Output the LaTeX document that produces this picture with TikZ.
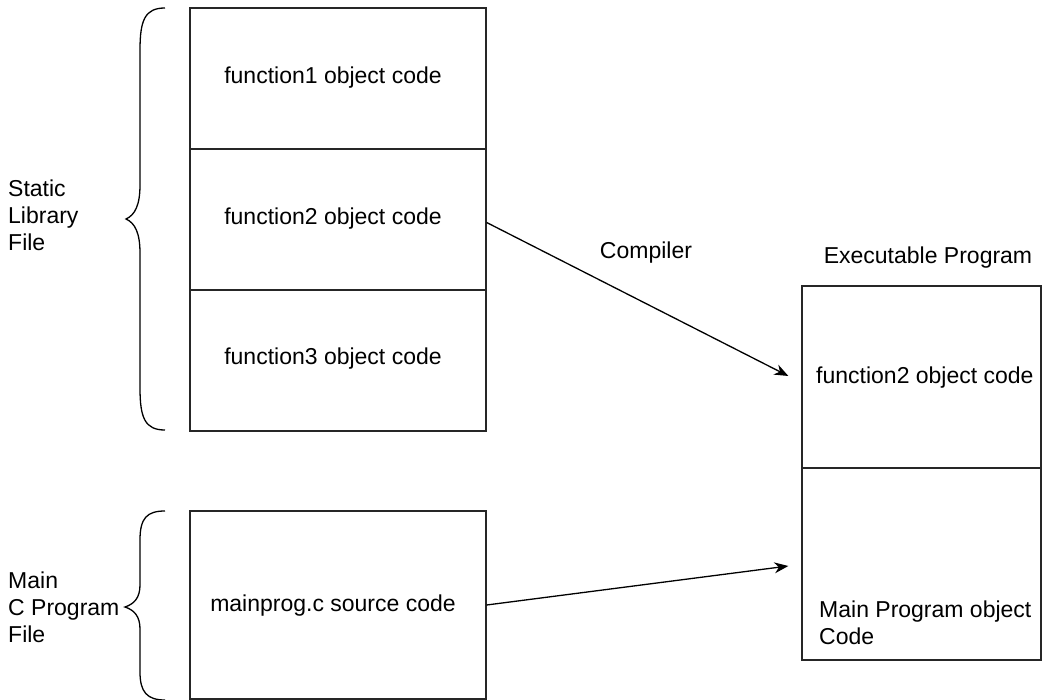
\documentclass[tikz,border=0pt]{standalone}
\usepackage{fontspec}
\setmainfont{Liberation Sans}
\usetikzlibrary{arrows.meta}
\begin{document}
\begin{tikzpicture}[x=1pt,y=-1pt,
  box/.style={draw=black!85,line width=1.3pt,minimum width=296pt,inner sep=0pt},
  lbl/.style={font=\fontsize{23}{27}\selectfont,inner sep=0pt},
  lbll/.style={lbl,align=left,anchor=west},
  brace/.style={draw=black,line width=1.3pt},
  arr/.style={draw=black,line width=1.3pt,-{Stealth[length=14pt,width=11pt]}}]
\useasboundingbox (0,0) rectangle (1055,700);
% static library boxes
\node[box,minimum height=141pt] (f1) at (338,78.5) {};
\node[box,minimum height=141pt] (f2) at (338,219.5) {};
\node[box,minimum height=141pt] (f3) at (338,360.5) {};
\node[lbl] (t1) at (333,78) {function1 object code};
\node[lbl] (t2) at (333,219) {function2 object code};
\node[lbl] (t3) at (333,359) {function3 object code};
% main program box
\node[box,minimum height=188pt] (mp) at (338,605) {};
\node[lbl] (tm) at (333,606) {mainprog.c source code};
% executable
\node[box,minimum width=239pt,minimum height=182pt] (e1) at (921.5,377) {};
\node[box,minimum width=239pt,minimum height=192pt] (e2) at (921.5,564) {};
\node[lbll] (te1) at (816,378) {function2 object code};
\node[lbll] (te2) at (819,623) {Main Program object\\Code};
\node[lbl] (te) at (928,258) {Executable Program};
\node[lbl] (cp) at (646,253) {Compiler};
% left labels
\node[lbll] (sl) at (8,215) {Static\\Library\\File};
\node[lbll] (mc) at (8,607) {Main\\C Program\\File};
% braces
\coordinate (b1t) at (165,8);
\coordinate (b1m) at (126,219);
\coordinate (b1b) at (165,430);
\draw[brace] (b1t) .. controls (145,8) and (140,20) .. (140,50) -- (140,185)
  .. controls (140,205) and (135,215) .. (b1m)
  .. controls (135,223) and (140,233) .. (140,253) -- (140,388)
  .. controls (140,418) and (145,430) .. (b1b);
\coordinate (b2t) at (165,511);
\coordinate (b2m) at (125,607);
\coordinate (b2b) at (165,700);
\draw[brace] (b2t) .. controls (147,511) and (140,518) .. (140,540) -- (140,585)
  .. controls (140,598) and (134,604) .. (b2m)
  .. controls (134,610) and (140,616) .. (140,629) -- (140,672)
  .. controls (140,692) and (147,700) .. (b2b);
% arrows
\draw[arr] ([yshift=-3pt]f2.east) -- ([xshift=-13pt,yshift=1pt]e1.west);
\draw[arr] (mp.east) -- ([xshift=-13pt,yshift=-2pt]e2.west);
\end{tikzpicture}
\end{document}
